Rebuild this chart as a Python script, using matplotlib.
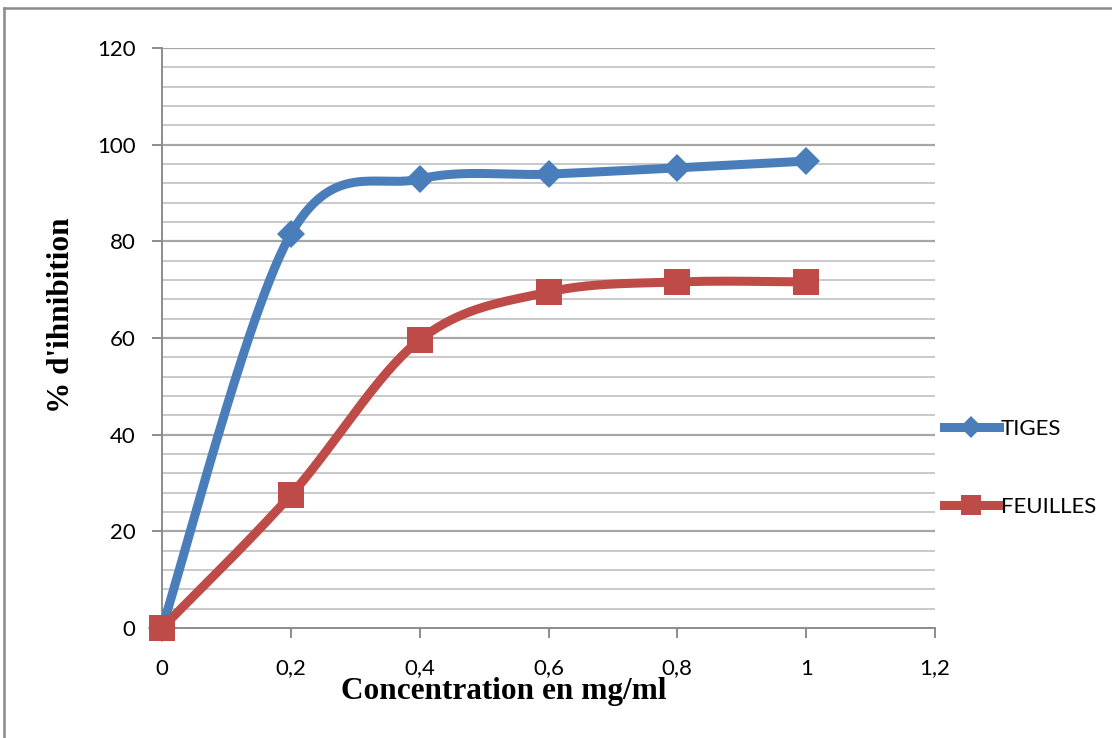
import numpy as np
import matplotlib
matplotlib.use("Agg")
import matplotlib.pyplot as plt
from matplotlib.lines import Line2D
from matplotlib.ticker import FixedLocator

# Inhibition (%) versus extract concentration (mg/ml)
concentration = [0.0, 0.2, 0.4, 0.6, 0.8, 1.0]
tiges = [0.0, 81.5, 92.9, 93.9, 95.2, 96.6]
feuilles = [0.0, 27.5, 59.6, 69.5, 71.6, 71.6]
series_names = ["TIGES", "FEUILLES"]
x_ticks = [0.0, 0.2, 0.4, 0.6, 0.8, 1.0, 1.2]
x_tick_labels = ["0", "0,2", "0,4", "0,6", "0,8", "1", "1,2"]
y_ticks = [0, 20, 40, 60, 80, 100, 120]

BLUE = "#4A7EBB"
RED = "#BE4B48"
GRID_MINOR = "#C9C9C9"
GRID_MAJOR = "#A6A6A6"
AXIS = "#8C8C8C"

W, H = 1112, 738
fig = plt.figure(figsize=(W / 100, H / 100), dpi=100)
ax = fig.add_axes([162 / W, 1 - 628 / H, (935 - 162) / W, (628 - 48) / H])
ax.set_xlim(0, 1.2)
ax.set_ylim(0, 120)


def smooth(xs, ys, sx, sy, n=60):
    """Bezier smoothing of a polyline, computed in screen-like units."""
    p = np.column_stack([np.asarray(xs) * sx, np.asarray(ys) * sy])
    out = []
    m = len(p)
    for i in range(m - 1):
        p0 = p[max(i - 1, 0)]
        p1 = p[i]
        p2 = p[i + 1]
        p3 = p[min(i + 2, m - 1)]
        c1 = p1 + (p2 - p0) / 6.0
        c2 = p2 - (p3 - p1) / 6.0
        t = np.linspace(0, 1, n)[:, None]
        seg = ((1 - t) ** 3) * p1 + 3 * ((1 - t) ** 2) * t * c1 + 3 * (1 - t) * t ** 2 * c2 + t ** 3 * p2
        out.append(seg if i == 0 else seg[1:])
    pts = np.vstack(out)
    return pts[:, 0] / sx, pts[:, 1] / sy


sx = (935 - 162) / 1.2
sy = (628 - 48) / 120.0

# horizontal grid: minor every 4, major every 20
for v in np.arange(4, 121, 4):
    major = v % 20 == 0
    ax.axhline(v, color=GRID_MAJOR if major else GRID_MINOR,
               lw=1.6 if major else 1.4, zorder=1)

for ys, color, marker, ms, name in [
    (tiges, BLUE, "D", 14.5, series_names[0]),
    (feuilles, RED, "s", 19, series_names[1]),
]:
    cx, cy = smooth(concentration, ys, sx, sy)
    ax.plot(cx, cy, color=color, lw=6.5, solid_capstyle="round", zorder=3)
    ax.plot(concentration, ys, linestyle="none", marker=marker, ms=ms,
            color=color, markeredgewidth=0, zorder=4, clip_on=False)

for s in ["top", "right"]:
    ax.spines[s].set_visible(False)
for s in ["left", "bottom"]:
    ax.spines[s].set_color(AXIS)
    ax.spines[s].set_linewidth(1.4)

ax.xaxis.set_major_locator(FixedLocator(x_ticks))
ax.set_xticklabels(x_tick_labels)
ax.yaxis.set_major_locator(FixedLocator(y_ticks))
ax.tick_params(axis="both", direction="out", length=7, width=1.4, color=AXIS,
               labelsize=16)
ax.tick_params(axis="x", pad=15)
ax.tick_params(axis="y", pad=12)
for lab in ax.get_xticklabels() + ax.get_yticklabels():
    lab.set_family(["Lato", "DejaVu Sans"])

ax.set_xlabel("Concentration en mg/ml", family="Liberation Serif",
              fontweight="bold", fontsize=22.5, labelpad=-1)
ax.set_ylabel("% d'ihnibition", family="Liberation Serif",
              fontweight="bold", fontsize=22.5, labelpad=15)
ax.xaxis.label.set_x(0.4425)
ax.yaxis.label.set_y(0.54)

handles = [
    Line2D([], [], color=BLUE, lw=6.5, marker="D", ms=11, markeredgewidth=0),
    Line2D([], [], color=RED, lw=6.5, marker="s", ms=15, markeredgewidth=0),
]
leg = ax.legend(handles, series_names, loc="upper left",
                bbox_to_anchor=(933 / W, 1 - 408 / H),
                bbox_transform=fig.transFigure, frameon=False,
                handlelength=2.45, handletextpad=0.1, labelspacing=2.6,
                borderpad=0, prop={"family": "Lato", "size": 16})

# chart area frame (left and top edges)
fig.add_artist(Line2D([4 / W, 4 / W], [0, 1 - 8 / H], transform=fig.transFigure,
                      color="#8A8A8A", lw=1.8))
fig.add_artist(Line2D([4 / W, 1], [1 - 8 / H, 1 - 8 / H], transform=fig.transFigure,
                      color="#8A8A8A", lw=1.8))

fig.savefig("out.png", dpi=100, facecolor="white")
